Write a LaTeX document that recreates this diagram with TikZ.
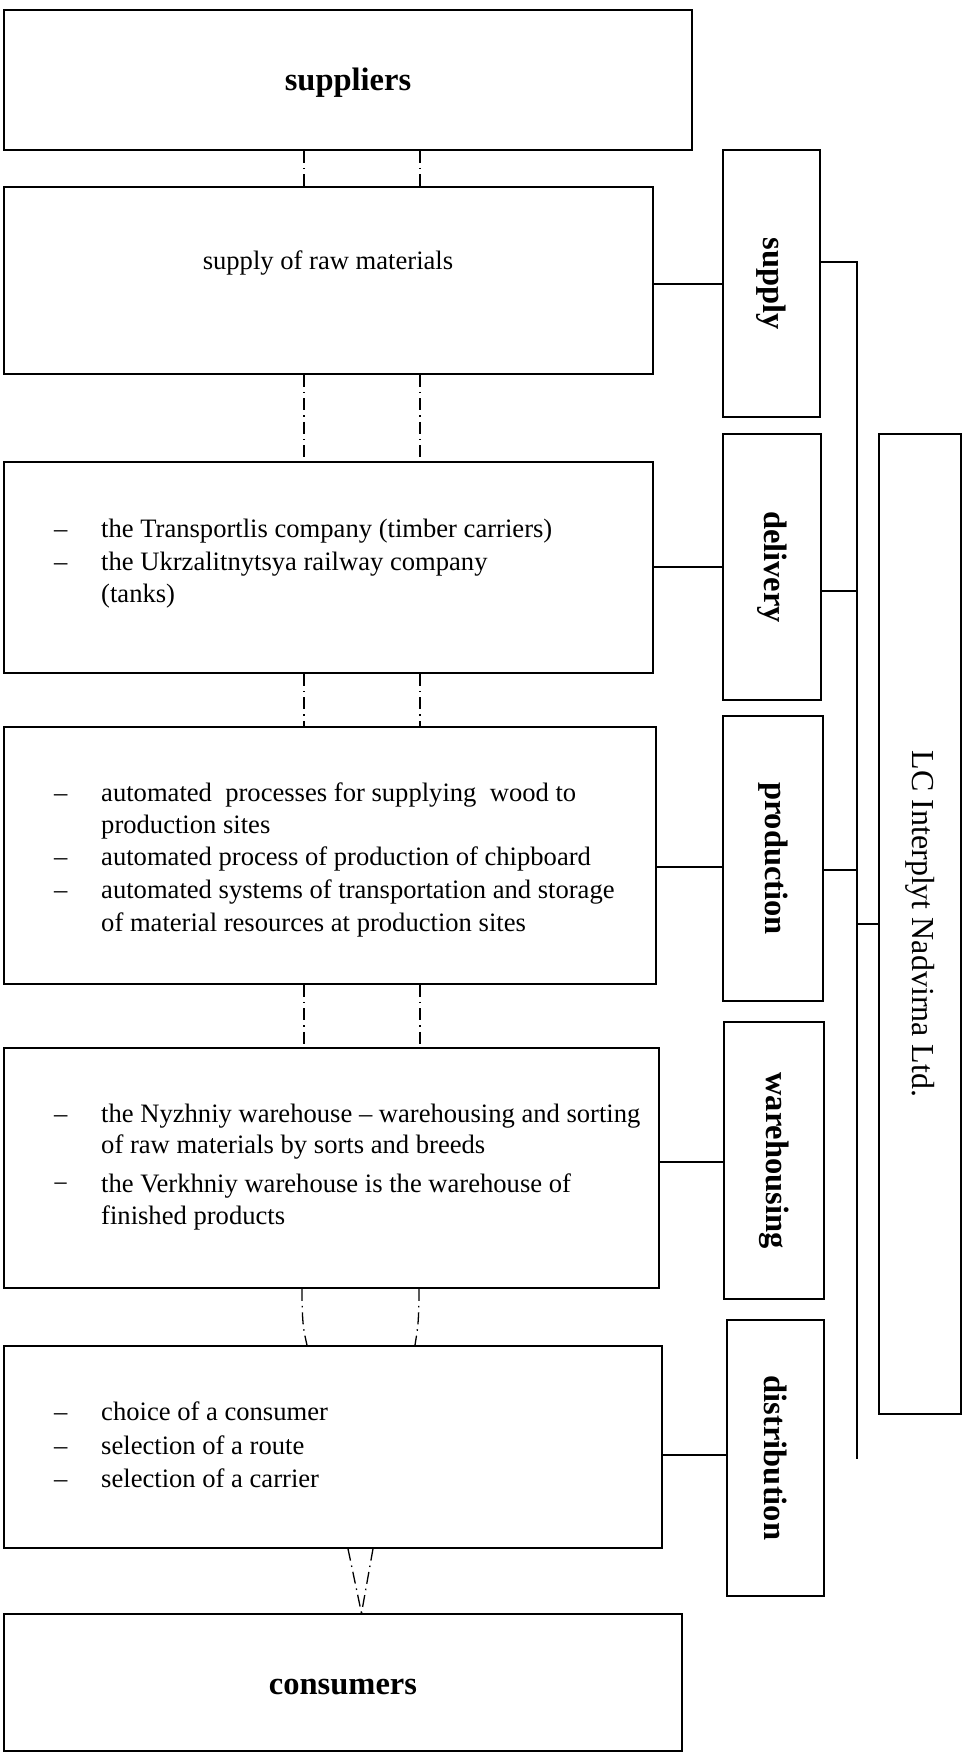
\documentclass[tikz,border=0pt]{standalone}
\usepackage{fontspec}
\setmainfont{Liberation Serif}
\usetikzlibrary{calc}
\begin{document}
\begin{tikzpicture}[x=1pt,y=-1pt,
 box/.style={draw, line width=1.6pt, inner sep=0pt},
 txt/.style={anchor=west, inner sep=0pt, font=\fontsize{26.6}{30}\selectfont, text height=0.75em, text depth=0.25em},
 btxt/.style={inner sep=0pt, font=\fontsize{32.5}{36}\selectfont\bfseries},
 rtxt/.style={btxt, rotate=-90},
 conn/.style={line width=1.7pt},
 dd/.style={line width=1.3pt, dash pattern=on 12pt off 5pt on 1.5pt off 5pt}
]
\useasboundingbox (0,0) rectangle (965,1753);

% main boxes
\node[box, minimum width=688pt, minimum height=140pt] (sup) at (348,80) {};
\node[box, minimum width=649pt, minimum height=187pt] (raw) at (328.5,280.5) {};
\node[box, minimum width=649pt, minimum height=211pt] (del) at (328.5,567.5) {};
\node[box, minimum width=652pt, minimum height=257pt] (prod) at (330,855.5) {};
\node[box, minimum width=655pt, minimum height=240pt] (ware) at (331.5,1168) {};
\node[box, minimum width=658pt, minimum height=202pt] (dist) at (333,1447) {};
\node[box, minimum width=678pt, minimum height=137pt] (cons) at (343,1682.5) {};

% label boxes
\node[box, minimum width=97pt, minimum height=267pt] (lsup) at (771.5,283.5) {};
\node[box, minimum width=98pt, minimum height=266pt] (ldel) at (772,567) {};
\node[box, minimum width=100pt, minimum height=285pt] (lprod) at (773,858.5) {};
\node[box, minimum width=100pt, minimum height=277pt] (lware) at (774,1160.5) {};
\node[box, minimum width=97pt, minimum height=276pt] (ldist) at (775.5,1458) {};
\node[box, minimum width=82pt, minimum height=980pt] (lc) at (920,924) {};

% label texts
\node[rtxt] (tsup) at (lsup) {supply};
\node[rtxt] (tdel) at (ldel) {delivery};
\node[rtxt] (tprod) at (lprod) {production};
\node[rtxt] (tware) at (lware) {warehousing};
\node[rtxt] (tdist) at (ldist) {distribution};
\node[inner sep=0pt, font=\fontsize{32}{36}\selectfont, rotate=-90] (tlc) at (lc) {LC Interplyt Nadvirna Ltd.};

% box texts
\node[btxt] (tsupp) at (348,83) {suppliers};
\node[btxt] (tcons) at (343,1687) {consumers};
\node[inner sep=0pt, font=\fontsize{26.6}{30}\selectfont] (traw) at (328,263) {supply of raw materials};

\node[txt] (d1m) at (54,535) {–};
\node[txt] (d1) at (101,535) {the Transportlis company (timber carriers)};
\node[txt] (d2m) at (54,567.5) {–};
\node[txt] (d2) at (101,567.5) {the Ukrzalitnytsya railway company};
\node[txt] (d3) at (101,599.5) {(tanks)};

\node[txt] (p1m) at (54,799) {–};
\node[txt] (p1) at (101,799) {automated\ \ processes for supplying\ \ wood to};
\node[txt] (p2) at (101,831) {production sites};
\node[txt] (p3m) at (54,863) {–};
\node[txt] (p3) at (101,863) {automated process of production of chipboard};
\node[txt] (p4m) at (54,896) {–};
\node[txt] (p4) at (101,896) {automated systems of transportation and storage};
\node[txt] (p5) at (101,929) {of material resources at production sites};

\node[txt] (w1m) at (54,1120) {–};
\node[txt] (w1) at (101,1120) {the Nyzhniy warehouse – warehousing and sorting};
\node[txt] (w2) at (101,1151) {of raw materials by sorts and breeds};
\node[txt] (w3m) at (53,1190) {−};
\node[txt] (w3) at (101,1190) {the Verkhniy warehouse is the warehouse of};
\node[txt] (w4) at (101,1222) {finished products};

\node[txt] (s1m) at (54,1418) {–};
\node[txt] (s1) at (101,1418) {choice of a consumer};
\node[txt] (s2m) at (54,1451.5) {–};
\node[txt] (s2) at (101,1451.5) {selection of a route};
\node[txt] (s3m) at (54,1485) {–};
\node[txt] (s3) at (101,1485) {selection of a carrier};

% connectors box -> label
\draw[conn] ([yshift=-3.5pt]raw.east) -- ([yshift=-3.5pt]raw.east -| lsup.west);
\draw[conn] ([yshift=0.5pt]del.east) -- ([yshift=0.5pt]del.east -| ldel.west);
\draw[conn] ([yshift=-11.5pt]prod.east) -- ([yshift=-11.5pt]prod.east -| lprod.west);
\draw[conn] ([yshift=6pt]ware.east) -- ([yshift=6pt]ware.east -| lware.west);
\draw[conn] ([yshift=-8pt]dist.east) -- ([yshift=-8pt]dist.east -| ldist.west);

% bus
\coordinate (btop) at (857,262);
\coordinate (bbot) at (857,1459);
\draw[conn] (lsup.east |- btop) -- (btop) -- (bbot);
\draw[conn] ([yshift=-24pt]ldel.east) -- ([yshift=-24pt]ldel.east -| btop);
\draw[conn] ([yshift=-11.5pt]lprod.east) -- ([yshift=-11.5pt]lprod.east -| btop);
\draw[conn] (lc.west) -- (lc.west -| btop);

% dash-dot flow lines
\coordinate (xl) at (304,0);
\coordinate (xr) at (420,0);
\foreach \a/\b in {sup/raw, raw/del, del/prod, prod/ware} {
  \draw[dd] (\a.south -| xl) -- (\b.north -| xl);
  \draw[dd] (\a.south -| xr) -- (\b.north -| xr);
}
\coordinate (wl) at ($(ware.south -| xl)+(-2,0)$);
\coordinate (wr) at ($(ware.south -| xr)+(-1,0)$);
\coordinate (dl) at ($(dist.north -| xl)+(3,0)$);
\coordinate (dr) at ($(dist.north -| xr)+(-5,0)$);
\draw[dd] (wl) .. controls +(0,38) and +(-3,-14) .. (dl);
\draw[dd] (wr) .. controls +(0,38) and +(2,-14) .. (dr);
\coordinate (vl) at ($(dist.south -| xl)+(44,0)$);
\coordinate (vr) at ($(dist.south -| xl)+(69,0)$);
\coordinate (vb) at ($(cons.north -| xl)+(57.5,0)$);
\draw[dd] (vl) -- (vb);
\draw[dd] (vr) -- (vb);
\end{tikzpicture}
\end{document}
